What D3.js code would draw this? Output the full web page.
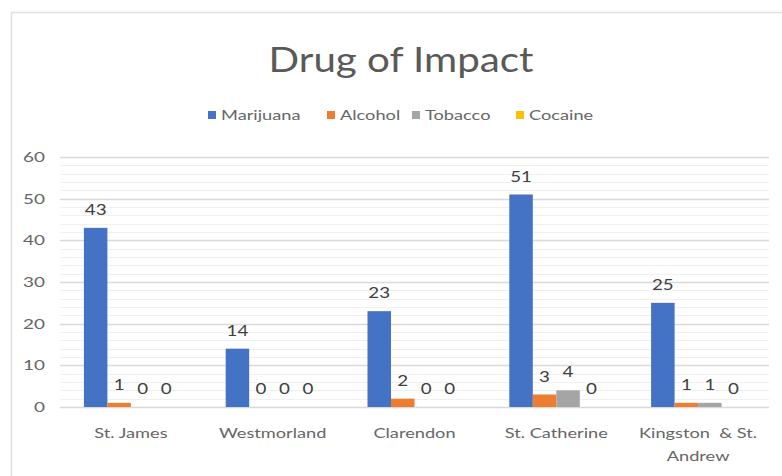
<!DOCTYPE html>
<html>
<head>
<meta charset="utf-8">
<script src="https://cdn.jsdelivr.net/npm/d3@7/dist/d3.min.js"></script>
<style>
  html, body { margin: 0; padding: 0; background: #fff; }
  svg { display: block; font-family: Lato, "Open Sans", sans-serif; }
</style>
</head>
<body>
<svg id="chart" width="782" height="476"></svg>
<script>
// Parishes (two-line labels split with "\n")
const categories = ["St. James", "Westmorland", "Clarendon", "St. Catherine", "Kingston  & St.\nAndrew"];
const seriesNames = ["Marijuana", "Alcohol", "Tobacco", "Cocaine"];
const marijuana = [43, 14, 23, 51, 25];
const alcohol = [1, 0, 2, 3, 1];
const tobacco = [0, 0, 0, 4, 1];
const cocaine = [0, 0, 0, 0, 0];
const yTicks = [0, 10, 20, 30, 40, 50, 60];
const colors = ["#4472C4", "#ED7D31", "#A5A5A5", "#FFC000"];

const seriesValues = [marijuana, alcohol, tobacco, cocaine];
const svg = d3.select("#chart");

// Widen glyphs horizontally (the chart's type is set wide)
function widen(sel, k) {
  sel.each(function () {
    const w = this.getComputedTextLength();
    if (w > 0) {
      d3.select(this).attr("textLength", w * k).attr("lengthAdjust", "spacingAndGlyphs");
    }
  });
}

// Outer chart frame
svg.append("rect")
  .attr("x", 11.5).attr("y", 12.5)
  .attr("width", 790).attr("height", 480)
  .attr("fill", "#fff").attr("stroke", "#e0e0e0").attr("stroke-width", 1.5);

const plot = { left: 60, right: 769, top: 157, bottom: 407 };

const x0 = d3.scaleBand().domain(d3.range(categories.length))
  .range([plot.left, plot.right]).paddingInner(0).paddingOuter(0);
const groupW = 94;
const x1 = d3.scaleBand().domain(d3.range(seriesNames.length)).range([0, groupW]);
const y = d3.scaleLinear().domain([0, 60]).range([plot.bottom, plot.top]);

// Minor gridlines every 2
svg.append("g").selectAll("line")
  .data(d3.range(2, 60, 2).filter(v => v % 10 !== 0))
  .join("line")
  .attr("x1", plot.left).attr("x2", plot.right)
  .attr("y1", d => Math.round(y(d)) + 0.5).attr("y2", d => Math.round(y(d)) + 0.5)
  .attr("stroke", "#f0f0f0").attr("stroke-width", 1);

// Major gridlines
svg.append("g").selectAll("line")
  .data(yTicks)
  .join("line")
  .attr("x1", plot.left).attr("x2", plot.right)
  .attr("y1", d => Math.round(y(d)) + 0.5).attr("y2", d => Math.round(y(d)) + 0.5)
  .attr("stroke", "#d9d9d9").attr("stroke-width", 1.5);

// Y axis labels
const yAxis = d3.axisLeft(y).tickValues(yTicks).tickSize(0).tickPadding(0);
const gy = svg.append("g").attr("transform", `translate(45,0)`).call(yAxis);
gy.select(".domain").remove();
gy.selectAll("text").attr("fill", "#666").style("font-size", "14px")
  .style("font-family", "Lato, 'Open Sans', sans-serif");
widen(gy.selectAll("text"), 1.35);

// Bars
const groups = svg.append("g").selectAll("g")
  .data(categories.map((c, i) => i))
  .join("g")
  .attr("transform", i => `translate(${x0(i) + (x0.bandwidth() - groupW) / 2},0)`);

groups.selectAll("rect")
  .data(i => seriesValues.map((vals, s) => ({ s, v: vals[i] })))
  .join("rect")
  .attr("x", d => x1(d.s))
  .attr("width", x1.bandwidth())
  .attr("y", d => y(d.v))
  .attr("height", d => y(0) - y(d.v))
  .attr("fill", d => colors[d.s]);

// Data labels
const dl = groups.selectAll("text")
  .data(i => seriesValues.map((vals, s) => ({ s, v: vals[i] })))
  .join("text")
  .attr("x", d => x1(d.s) + x1.bandwidth() / 2)
  .attr("y", d => y(d.v) - 13)
  .attr("text-anchor", "middle")
  .attr("fill", "#404040")
  .style("font-size", "15px")
  .text(d => d.v);
widen(dl, 1.25);

// Category labels
const cat = svg.append("g").selectAll("text")
  .data(categories)
  .join("text")
  .attr("x", (d, i) => x0(i) + x0.bandwidth() / 2)
  .attr("y", 438)
  .attr("text-anchor", "middle")
  .attr("fill", "#666")
  .style("font-size", "14px");
cat.each(function (d) {
  const lines = d.split("\n");
  const t = d3.select(this);
  lines.forEach((ln, k) => {
    t.append("tspan")
      .attr("x", t.attr("x"))
      .attr("dy", k === 0 ? 0 : 23)
      .style("white-space", "pre")
      .text(ln);
  });
});
cat.selectAll("tspan").each(function () {
  const w = this.getComputedTextLength();
  d3.select(this).attr("textLength", w * 1.3).attr("lengthAdjust", "spacingAndGlyphs");
});

// Title
const title = svg.append("text")
  .attr("x", 401).attr("y", 72)
  .attr("text-anchor", "middle")
  .attr("fill", "#595959")
  .style("font-size", "35px")
  .text("Drug of Impact");
widen(title, 1.15);

// Legend
const legendX = [208, 327, 412, 516];
const legend = svg.append("g").selectAll("g")
  .data(seriesNames)
  .join("g")
  .attr("transform", (d, i) => `translate(${legendX[i]},115)`);
legend.append("rect")
  .attr("x", 0).attr("y", -4).attr("width", 8).attr("height", 8)
  .attr("fill", (d, i) => colors[i]);
const lt = legend.append("text")
  .attr("x", 13).attr("y", 5)
  .attr("fill", "#666")
  .style("font-size", "14px")
  .text(d => d);
widen(lt, 1.3);
</script>
</body>
</html>
